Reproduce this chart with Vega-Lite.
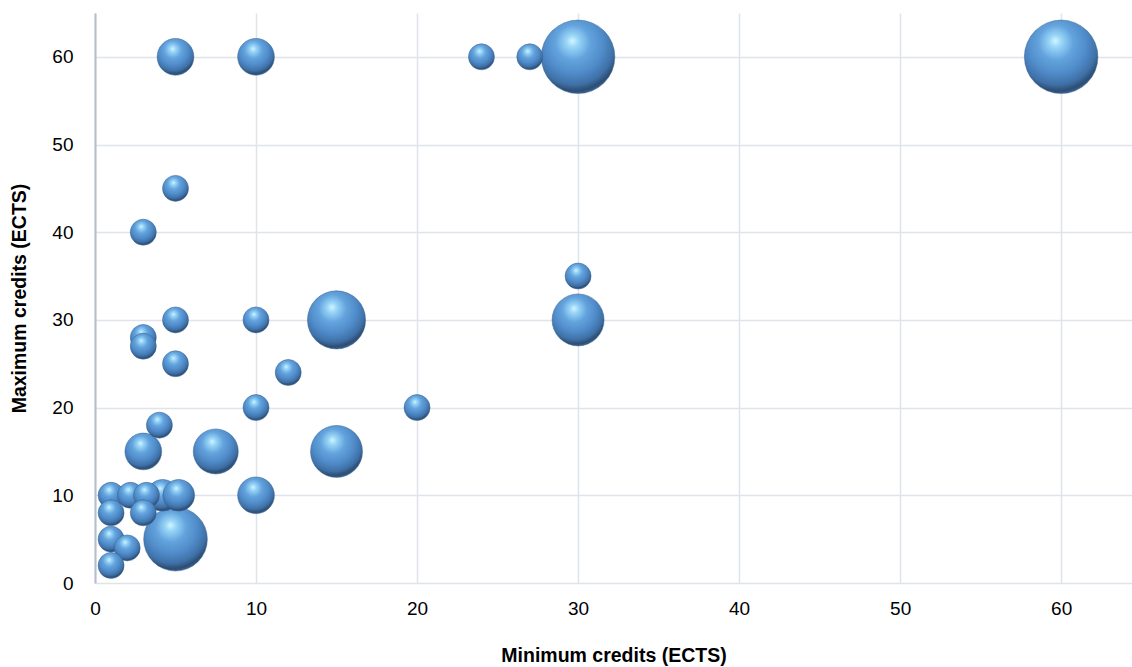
{
  "$schema": "https://vega.github.io/schema/vega-lite/v6.json",
  "autosize": {"type": "none"},
  "padding": {"left": 95, "top": 13, "right": 0, "bottom": 84},
  "width": 1037,
  "height": 570,
  "background": "#ffffff",
  "config": {
    "view": {"stroke": null},
    "font": "Liberation Sans, Arial, sans-serif",
    "axis": {
      "labelFont": "Liberation Sans, Arial, sans-serif",
      "titleFont": "Liberation Sans, Arial, sans-serif",
      "labelFontSize": 19,
      "titleFontSize": 19.5,
      "labelColor": "#000000",
      "titleColor": "#000000",
      "titleFontWeight": "bold",
      "ticks": false,
      "labelFlush": false,
      "gridColor": "#dfe3ea",
      "gridWidth": 1.5
    }
  },
  "data": {
    "values": [
      {"min_credits": 5, "max_credits": 60, "count": 2},
      {"min_credits": 10, "max_credits": 60, "count": 2},
      {"min_credits": 24, "max_credits": 60, "count": 1},
      {"min_credits": 27, "max_credits": 60, "count": 1},
      {"min_credits": 30, "max_credits": 60, "count": 8},
      {"min_credits": 60, "max_credits": 60, "count": 8},
      {"min_credits": 5, "max_credits": 45, "count": 1},
      {"min_credits": 3, "max_credits": 40, "count": 1},
      {"min_credits": 30, "max_credits": 35, "count": 1},
      {"min_credits": 5, "max_credits": 30, "count": 1},
      {"min_credits": 10, "max_credits": 30, "count": 1},
      {"min_credits": 15, "max_credits": 30, "count": 5},
      {"min_credits": 30, "max_credits": 30, "count": 4},
      {"min_credits": 3, "max_credits": 28, "count": 1},
      {"min_credits": 3, "max_credits": 27, "count": 1},
      {"min_credits": 5, "max_credits": 25, "count": 1},
      {"min_credits": 12, "max_credits": 24, "count": 1},
      {"min_credits": 10, "max_credits": 20, "count": 1},
      {"min_credits": 20, "max_credits": 20, "count": 1},
      {"min_credits": 4, "max_credits": 18, "count": 1},
      {"min_credits": 3, "max_credits": 15, "count": 2},
      {"min_credits": 7.5, "max_credits": 15, "count": 3},
      {"min_credits": 15, "max_credits": 15, "count": 4},
      {"min_credits": 1, "max_credits": 10, "count": 1},
      {"min_credits": 2.2, "max_credits": 10, "count": 1},
      {"min_credits": 3.2, "max_credits": 10, "count": 1},
      {"min_credits": 4.2, "max_credits": 10, "count": 1.5},
      {"min_credits": 5.2, "max_credits": 10, "count": 1.5},
      {"min_credits": 10, "max_credits": 10, "count": 2},
      {"min_credits": 1, "max_credits": 8, "count": 1},
      {"min_credits": 3, "max_credits": 8, "count": 1},
      {"min_credits": 1, "max_credits": 5, "count": 1},
      {"min_credits": 5, "max_credits": 5, "count": 6},
      {"min_credits": 2, "max_credits": 4, "count": 1},
      {"min_credits": 1, "max_credits": 2, "count": 1}
    ]
  },
  "mark": {
    "type": "circle",
    "opacity": 1,
    "stroke": "#3a6590",
    "strokeWidth": 0.5,
    "fill": {
      "gradient": "radial",
      "x1": 0.42, "y1": 0.28, "r1": 0,
      "x2": 0.45, "y2": 0.35, "r2": 0.68,
      "stops": [
        {"offset": 0, "color": "#d2f7ff"},
        {"offset": 0.12, "color": "#9ad6f8"},
        {"offset": 0.35, "color": "#63a3dd"},
        {"offset": 0.6, "color": "#4f8bc9"},
        {"offset": 0.8, "color": "#3f70a6"},
        {"offset": 0.91, "color": "#2c4d73"},
        {"offset": 0.97, "color": "#3a6390"},
        {"offset": 1, "color": "#4a7db5"}
      ]
    }
  },
  "encoding": {
    "x": {
      "field": "min_credits",
      "type": "quantitative",
      "title": "Minimum credits (ECTS)",
      "scale": {"domain": [0, 64.4], "nice": false, "zero": true},
      "axis": {
        "values": [0, 10, 20, 30, 40, 50, 60],
        "domain": false,
        "labelPadding": 16,
        "titlePadding": 28
      }
    },
    "y": {
      "field": "max_credits",
      "type": "quantitative",
      "title": "Maximum credits (ECTS)",
      "scale": {"domain": [0, 65], "nice": false, "zero": true},
      "axis": {
        "values": [0, 10, 20, 30, 40, 50, 60],
        "domain": true,
        "domainColor": "#b5bdcc",
        "domainWidth": 2,
        "labelPadding": 22,
        "titlePadding": 22
      }
    },
    "size": {
      "field": "count",
      "type": "quantitative",
      "scale": {"type": "linear", "domain": [0, 8], "range": [0, 5408], "zero": true},
      "legend": null
    },
    "order": {"field": "count", "sort": "descending"}
  }
}
